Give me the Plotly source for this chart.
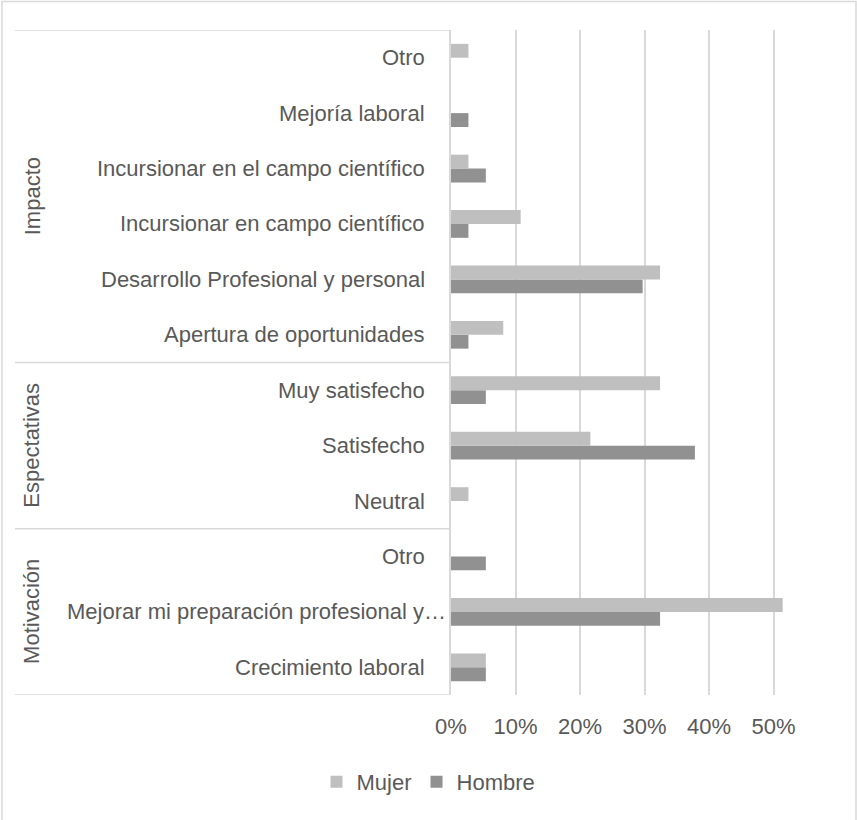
import plotly.graph_objects as go

# Survey results by gender, grouped into three blocks (bottom to top)
groups = ["Motivación", "Espectativas", "Impacto"]
group_sizes = [3, 3, 6]
categories = [
    "Crecimiento laboral",
    "Mejorar mi preparación profesional y…",
    "Otro",
    "Neutral",
    "Satisfecho",
    "Muy satisfecho",
    "Apertura de oportunidades",
    "Desarrollo Profesional y personal",
    "Incursionar en campo científico",
    "Incursionar en el campo científico",
    "Mejoría laboral",
    "Otro",
]
mujer = [0.054, 0.514, 0.0, 0.027, 0.216, 0.324, 0.081, 0.324, 0.108, 0.027, 0.0, 0.027]
hombre = [0.054, 0.324, 0.054, 0.0, 0.378, 0.054, 0.027, 0.297, 0.027, 0.054, 0.027, 0.0]
x_ticks = [0, 0.1, 0.2, 0.3, 0.4, 0.5]
x_tick_labels = ["0%", "10%", "20%", "30%", "40%", "50%"]

W, H = 857, 820
L, R, T, B = 451, 64, 30, 125
plot_w = W - L - R
plot_h = H - T - B

FONT = "Liberation Sans, Arial, sans-serif"
TXT = "#595959"
LINE = "#D9D9D9"
FS = 22

ypos = list(range(len(categories)))

fig = go.Figure()
fig.add_trace(go.Bar(
    y=ypos, x=hombre, orientation="h", name="Hombre",
    marker=dict(color="#919191", line=dict(width=0)),
))
fig.add_trace(go.Bar(
    y=ypos, x=mujer, orientation="h", name="Mujer",
    marker=dict(color="#BFBFBF", line=dict(width=0)),
))


def px_x(px):
    return (px - L) / plot_w


def px_y(py):
    return (H - B - py) / plot_h


shapes = []
annotations = []

# outer chart border
shapes.append(dict(type="rect", xref="paper", yref="paper",
                   x0=px_x(2), x1=px_x(856), y0=px_y(830), y1=px_y(1.5),
                   line=dict(color=LINE, width=1.5), layer="below"))

# separator lines of the two-level category axis (data y coordinates)
bounds = [-0.5]
for s in group_sizes:
    bounds.append(bounds[-1] + s)
for b in bounds:
    shapes.append(dict(type="line", xref="paper", yref="y",
                       x0=px_x(15), x1=0, y0=b, y1=b,
                       line=dict(color=LINE, width=1.5)))

# inner category labels; a truncated label runs right up to the axis
for yv, cat in zip(ypos, categories):
    right = 448 if cat.endswith("…") else 427
    annotations.append(dict(
        text=cat, xref="paper", yref="y", x=px_x(right), y=yv,
        showarrow=False, xanchor="right", yanchor="middle",
        font=dict(family=FONT, size=FS, color=TXT),
    ))

# group labels, rotated
for g, lo, hi in zip(groups, bounds[:-1], bounds[1:]):
    annotations.append(dict(
        text=g, xref="paper", yref="y", x=px_x(32), y=(lo + hi) / 2,
        showarrow=False, textangle=-90, xanchor="center", yanchor="middle",
        font=dict(family=FONT, size=FS, color=TXT),
    ))

fig.update_layout(
    template="none",
    width=W, height=H,
    margin=dict(l=L, r=R, t=T, b=B, autoexpand=False),
    paper_bgcolor="white", plot_bgcolor="white",
    barmode="group", bargap=0.5, bargroupgap=0,
    font=dict(family=FONT, size=FS, color=TXT),
    xaxis=dict(
        range=[0, 0.53], tickvals=x_ticks, ticktext=x_tick_labels,
        showgrid=True, gridcolor=LINE, gridwidth=1.5,
        zeroline=False, showline=False, ticks="", automargin=False,
        ticklabelstandoff=16,
        tickfont=dict(family=FONT, size=FS, color=TXT),
    ),
    yaxis=dict(
        range=[-0.5, len(categories) - 0.5],
        tickvals=ypos, showticklabels=False,
        showgrid=False, zeroline=False, automargin=False,
        showline=True, linecolor=LINE, linewidth=1.5,
        ticks="",
    ),
    legend=dict(
        orientation="h", traceorder="reversed",
        x=0.5, xanchor="center", xref="container",
        y=px_y(782), yanchor="middle",
        font=dict(family=FONT, size=FS, color=TXT),
    ),
    shapes=shapes,
    annotations=annotations,
)

fig.write_html("out.html")
